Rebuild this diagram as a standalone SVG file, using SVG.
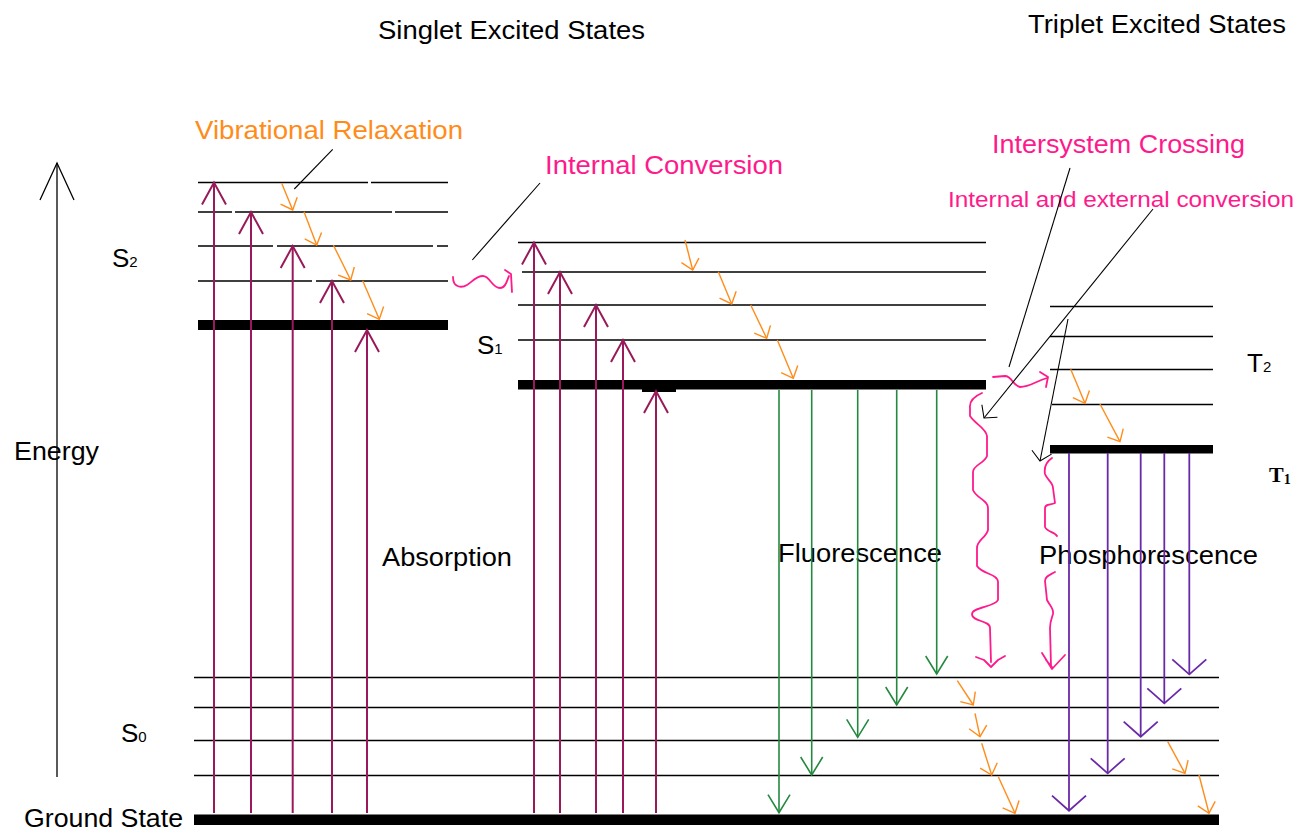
<svg xmlns="http://www.w3.org/2000/svg" width="1299" height="833" viewBox="0 0 1299 833">
<style>
.lvl{stroke:#000;stroke-width:1.6;fill:none}
.bar{fill:#000}
.abs{stroke:#99195a;stroke-width:2;fill:none;marker-end:url(#hAbs)}
.vr{stroke:#ff8c1a;stroke-width:1.4;fill:none;marker-end:url(#hVr)}
.fl{stroke:#24893f;stroke-width:1.6;fill:none;marker-end:url(#hFl)}
.ph{stroke:#6a2aa8;stroke-width:1.8;fill:none;marker-end:url(#hPh)}
.wav{stroke:#ff1a8c;stroke-width:1.8;fill:none;stroke-linejoin:round;stroke-linecap:round}
.ptr{stroke:#000;stroke-width:1.1;fill:none}
.ptra{stroke:#000;stroke-width:1.1;fill:none;marker-end:url(#hPtr)}
.t{font-family:"Liberation Sans",Arial,sans-serif;font-size:26px;fill:#000}
.sub{font-size:15px}
.or{fill:#ff8c1a}
.mg{fill:#ff1a8c}
</style>
<defs>
<marker id="hAbs" markerUnits="userSpaceOnUse" orient="auto" refX="0" refY="0" markerWidth="1" markerHeight="1" overflow="visible"><path d="M-22,-12 L0,0 L-22,12" fill="none" stroke="#99195a" stroke-width="2"/></marker>
<marker id="hVr" markerUnits="userSpaceOnUse" orient="auto" refX="0" refY="0" markerWidth="1" markerHeight="1" overflow="visible"><path d="M-10,-9 L0,0 L-10,9" fill="none" stroke="#ff8c1a" stroke-width="1.4"/></marker>
<marker id="hFl" markerUnits="userSpaceOnUse" orient="auto" refX="0" refY="0" markerWidth="1" markerHeight="1" overflow="visible"><path d="M-18,-11 L0,0 L-18,11" fill="none" stroke="#24893f" stroke-width="1.6"/></marker>
<marker id="hPh" markerUnits="userSpaceOnUse" orient="auto" refX="0" refY="0" markerWidth="1" markerHeight="1" overflow="visible"><path d="M-15,-17 L0,0 L-15,17" fill="none" stroke="#6a2aa8" stroke-width="1.8"/></marker>
<marker id="hPtr" markerUnits="userSpaceOnUse" orient="auto" refX="0" refY="0" markerWidth="1" markerHeight="1" overflow="visible"><path d="M-9,-10 L0,0 L-9,10" fill="none" stroke="#000" stroke-width="1.1"/></marker>
<marker id="hEn" markerUnits="userSpaceOnUse" orient="auto" refX="0" refY="0" markerWidth="1" markerHeight="1" overflow="visible"><path d="M-37,-17 L0,0 L-37,17" fill="none" stroke="#000" stroke-width="1.3"/></marker>
</defs>
<rect width="1299" height="833" fill="#fff"/>

<g id="titles">
<text class="t" x="378" y="39" textLength="267" lengthAdjust="spacingAndGlyphs">Singlet Excited States</text>
<text class="t" x="1028" y="33" textLength="258" lengthAdjust="spacingAndGlyphs">Triplet Excited States</text>
</g>

<g id="energy-axis">
<path d="M57,777 L57,163" stroke="#000" stroke-width="1.3" fill="none" marker-end="url(#hEn)"/>
<text class="t" x="14" y="460" textLength="85" lengthAdjust="spacingAndGlyphs">Energy</text>
</g>

<g id="S2">
<path class="lvl" d="M198,182.5H368M371,182.5H448M198,212H232M235,212H392M395,212H448M198,246H273M277,246H433M437,246H448M198,281H312M316,281H448"/>
<rect class="bar" x="198" y="320" width="250" height="10"/>
<text class="t" x="112" y="267">S<tspan class="sub">2</tspan></text>
</g>

<g id="S1">
<path class="lvl" d="M518,242.5H986M522,272H986M518,305H986M518,340H986"/>
<rect class="bar" x="518" y="380" width="468" height="9.5"/>
<rect class="bar" x="642" y="389" width="34" height="3"/>
<text class="t" x="477" y="354">S<tspan class="sub">1</tspan></text>
</g>

<g id="T">
<path class="lvl" d="M1050,306.5H1213M1050,336.5H1213M1050,369.5H1213M1052,404.5H1213"/>
<rect class="bar" x="1050" y="445" width="163" height="8.5"/>
<text class="t" x="1247" y="372">T<tspan class="sub">2</tspan></text>
<text x="1269" y="482" font-family="'Liberation Serif','Times New Roman',serif" font-weight="bold" font-size="22">T<tspan font-size="14" dy="2">1</tspan></text>
</g>

<g id="S0">
<path class="lvl" d="M194,677.5H1219M194,707.5H1219M194,740.5H1219M194,775.5H1219"/>
<rect class="bar" x="194" y="814.5" width="1025" height="10.5"/>
<text class="t" x="121" y="742">S<tspan class="sub">0</tspan></text>
<text class="t" x="24" y="827" textLength="159" lengthAdjust="spacingAndGlyphs">Ground State</text>
</g>

<g id="labels">
<text class="t or" x="195" y="139" textLength="268" lengthAdjust="spacingAndGlyphs">Vibrational Relaxation</text>
<text class="t mg" x="545" y="174" textLength="238" lengthAdjust="spacingAndGlyphs">Internal Conversion</text>
<text class="t mg" x="992" y="153" textLength="253" lengthAdjust="spacingAndGlyphs">Intersystem Crossing</text>
<text class="t mg" x="948" y="207" style="font-size:22px" textLength="346" lengthAdjust="spacingAndGlyphs">Internal and external conversion</text>
<text class="t" x="382" y="566" textLength="130" lengthAdjust="spacingAndGlyphs">Absorption</text>
<text class="t" x="778" y="562" textLength="164" lengthAdjust="spacingAndGlyphs">Fluorescence</text>
<text class="t" x="1039" y="564" textLength="219" lengthAdjust="spacingAndGlyphs">Phosphorescence</text>
</g>

<g id="connectors">
<g id="absorption">
<path class="abs" d="M214,813V182.5"/>
<path class="abs" d="M251,813V212"/>
<path class="abs" d="M292.7,813V246"/>
<path class="abs" d="M332,813V281"/>
<path class="abs" d="M367,813V330"/>
<path class="abs" d="M534,813V242.5"/>
<path class="abs" d="M560,813V272"/>
<path class="abs" d="M596,813V305"/>
<path class="abs" d="M623,813V340"/>
<path class="abs" d="M656,813V391"/>
</g>
<g id="vibrational-relaxation">
<path class="vr" d="M281.7,183.3L292.7,210"/>
<path class="vr" d="M304,211.7L316.7,245"/>
<path class="vr" d="M333.3,245L350.7,280"/>
<path class="vr" d="M362.7,280.7L379.3,319.3"/>
<path class="vr" d="M685,240L692.7,270"/>
<path class="vr" d="M718.3,271.7L731.7,304"/>
<path class="vr" d="M750.7,305L766.7,338.3"/>
<path class="vr" d="M777.3,340L793.3,378.3"/>
<path class="vr" d="M1070.7,369.3L1085,403.3"/>
<path class="vr" d="M1100,404L1120,441.7"/>
<path class="vr" d="M957.3,680.7L973.3,705"/>
<path class="vr" d="M975,713.3L980,736.7"/>
<path class="vr" d="M981.7,743.3L991.7,775"/>
<path class="vr" d="M998.3,776.7L1015,813.3"/>
<path class="vr" d="M1167.7,741.7L1185,773.3"/>
<path class="vr" d="M1199,775L1209,813.3"/>
</g>
<g id="fluorescence">
<path class="fl" d="M779,390V812.7"/>
<path class="fl" d="M811.7,390V775"/>
<path class="fl" d="M857.7,390V737.3"/>
<path class="fl" d="M896.7,390V705"/>
<path class="fl" d="M936.7,390V674"/>
</g>
<g id="phosphorescence">
<path class="ph" d="M1069,453V810.7"/>
<path class="ph" d="M1107.7,453V773.3"/>
<path class="ph" d="M1140.7,453V736.7"/>
<path class="ph" d="M1164.3,453V703.3"/>
<path class="ph" d="M1189.3,453V674.3"/>
</g>
<g id="nonradiative">
<path class="wav" d="M453,277 C453,288 462,288 467,285 C472,282 476,276 483,276 C490,276 492,288 500,288 C506,288 507,280 509,276"/>
<path class="wav" d="M505,270 L511,274 L512,292"/>
<path class="wav" d="M993,377 L1005,376 C1012,376 1013,386 1020,387 C1030,387 1036,381 1047,378"/>
<path class="wav" stroke-width="2.6" d="M1040,372 L1048,377 L1046,387"/>
<path class="wav" d="M982,393 C975,396 969,400 970,408 L970,416 C975,424 986,428 987,436 L987,456 C985,463 973,465 973,472 L973,490 C976,498 988,500 988,508 L988,530 C986,538 977,540 977,548 L977,566 C982,574 998,574 998,582 L998,600 C995,607 972,607 972,614 C972,622 990,620 990,628 L991,662"/>
<path class="wav" d="M976,657 L984,660 L991,667 L998,660 L1005,656"/>
<path class="wav" d="M1052,458 C1046,462 1044,468 1045,474 C1047,480 1053,482 1053,488 L1055,503 C1050,505 1045,504 1045,508 L1045,527 C1047,532 1055,532 1057,536"/>
<path class="wav" d="M1055,572 C1050,575 1045,576 1045,581 L1047,600 C1050,606 1054,608 1053,614 C1051,620 1050,622 1050,628 L1051,666"/>
<path class="wav" d="M1042,653 L1052,669 L1065,655 M1046,660 L1052,667"/>
</g>
<g id="pointers">
<path class="ptr" d="M332.7,149.3L294.3,189"/>
<path class="ptr" d="M540,183L472.3,260"/>
<path class="ptr" d="M1070,168L1009,367"/>
<path class="ptra" d="M1153,209L984,418"/>
<path class="ptra" d="M1068,319L1040,461"/>
</g>
</g>
</svg>
